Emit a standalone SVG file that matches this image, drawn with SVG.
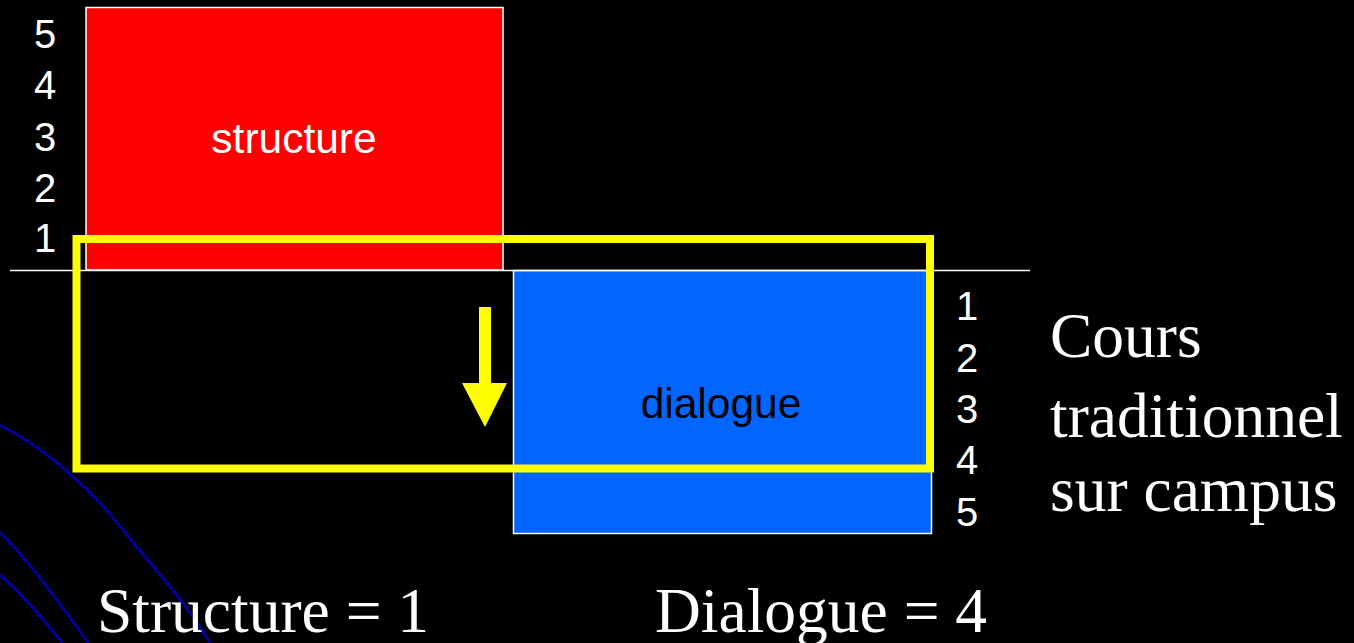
<svg xmlns="http://www.w3.org/2000/svg" width="1354" height="643" viewBox="0 0 1354 643">
<style>
.num{font-family:"Liberation Sans",Arial,sans-serif;font-size:40px;fill:#fff;text-anchor:middle}
.lbl{font-family:"Liberation Sans",Arial,sans-serif;font-size:42.5px;text-anchor:middle}
.serif{font-family:"Liberation Serif","Times New Roman",serif;font-size:63.5px;fill:#fff}
.curve{fill:none;stroke:#000099;stroke-width:3}
</style>
<rect x="0" y="0" width="1354" height="643" fill="#000"/>
<g id="decor">
<path class="curve" d="M0,425 C40,445 90,485 135,545 C165,580 190,610 210,643"/>
<path class="curve" d="M0,532 C25,558 55,595 88,643"/>
<path class="curve" d="M0,575 C20,592 40,615 62,643"/>
</g>
<g id="structure">
<rect x="86" y="7.5" width="417" height="262.5" fill="#ff0000" stroke="#fff" stroke-width="1.5"/>
<text class="lbl" x="294" y="153" fill="#fff">structure</text>
</g>
<g id="dialogue">
<rect x="513.5" y="270.5" width="418" height="263" fill="#0066ff" stroke="#fff" stroke-width="1.5"/>
<text class="lbl" x="721" y="418" fill="#000">dialogue</text>
</g>
<g id="axis">
<line x1="10" y1="270.5" x2="1030" y2="270.5" stroke="#fff" stroke-width="1.5"/>
</g>
<g id="scale-left">
<text class="num" x="45" y="48">5</text>
<text class="num" x="45" y="99">4</text>
<text class="num" x="45" y="151">3</text>
<text class="num" x="45" y="202">2</text>
<text class="num" x="45" y="252">1</text>
</g>
<g id="scale-right">
<text class="num" x="967" y="320">1</text>
<text class="num" x="967" y="372">2</text>
<text class="num" x="967" y="423">3</text>
<text class="num" x="967" y="474">4</text>
<text class="num" x="967" y="526">5</text>
</g>
<g id="highlight">
<rect x="76.5" y="239" width="853.5" height="229.5" fill="none" stroke="#ffff00" stroke-width="8"/>
</g>
<g id="connectors">
<polygon points="479,307 491,307 491,383 507,383 485,427 462,383 479,383" fill="#ffff00"/>
</g>
<g id="caption">
<text class="serif" x="1050" y="357">Cours</text>
<text class="serif" x="1050" y="437">traditionnel</text>
<text class="serif" x="1050" y="511">sur campus</text>
<text class="serif" x="97" y="632">Structure = 1</text>
<text class="serif" x="655" y="632">Dialogue = 4</text>
</g>
</svg>
